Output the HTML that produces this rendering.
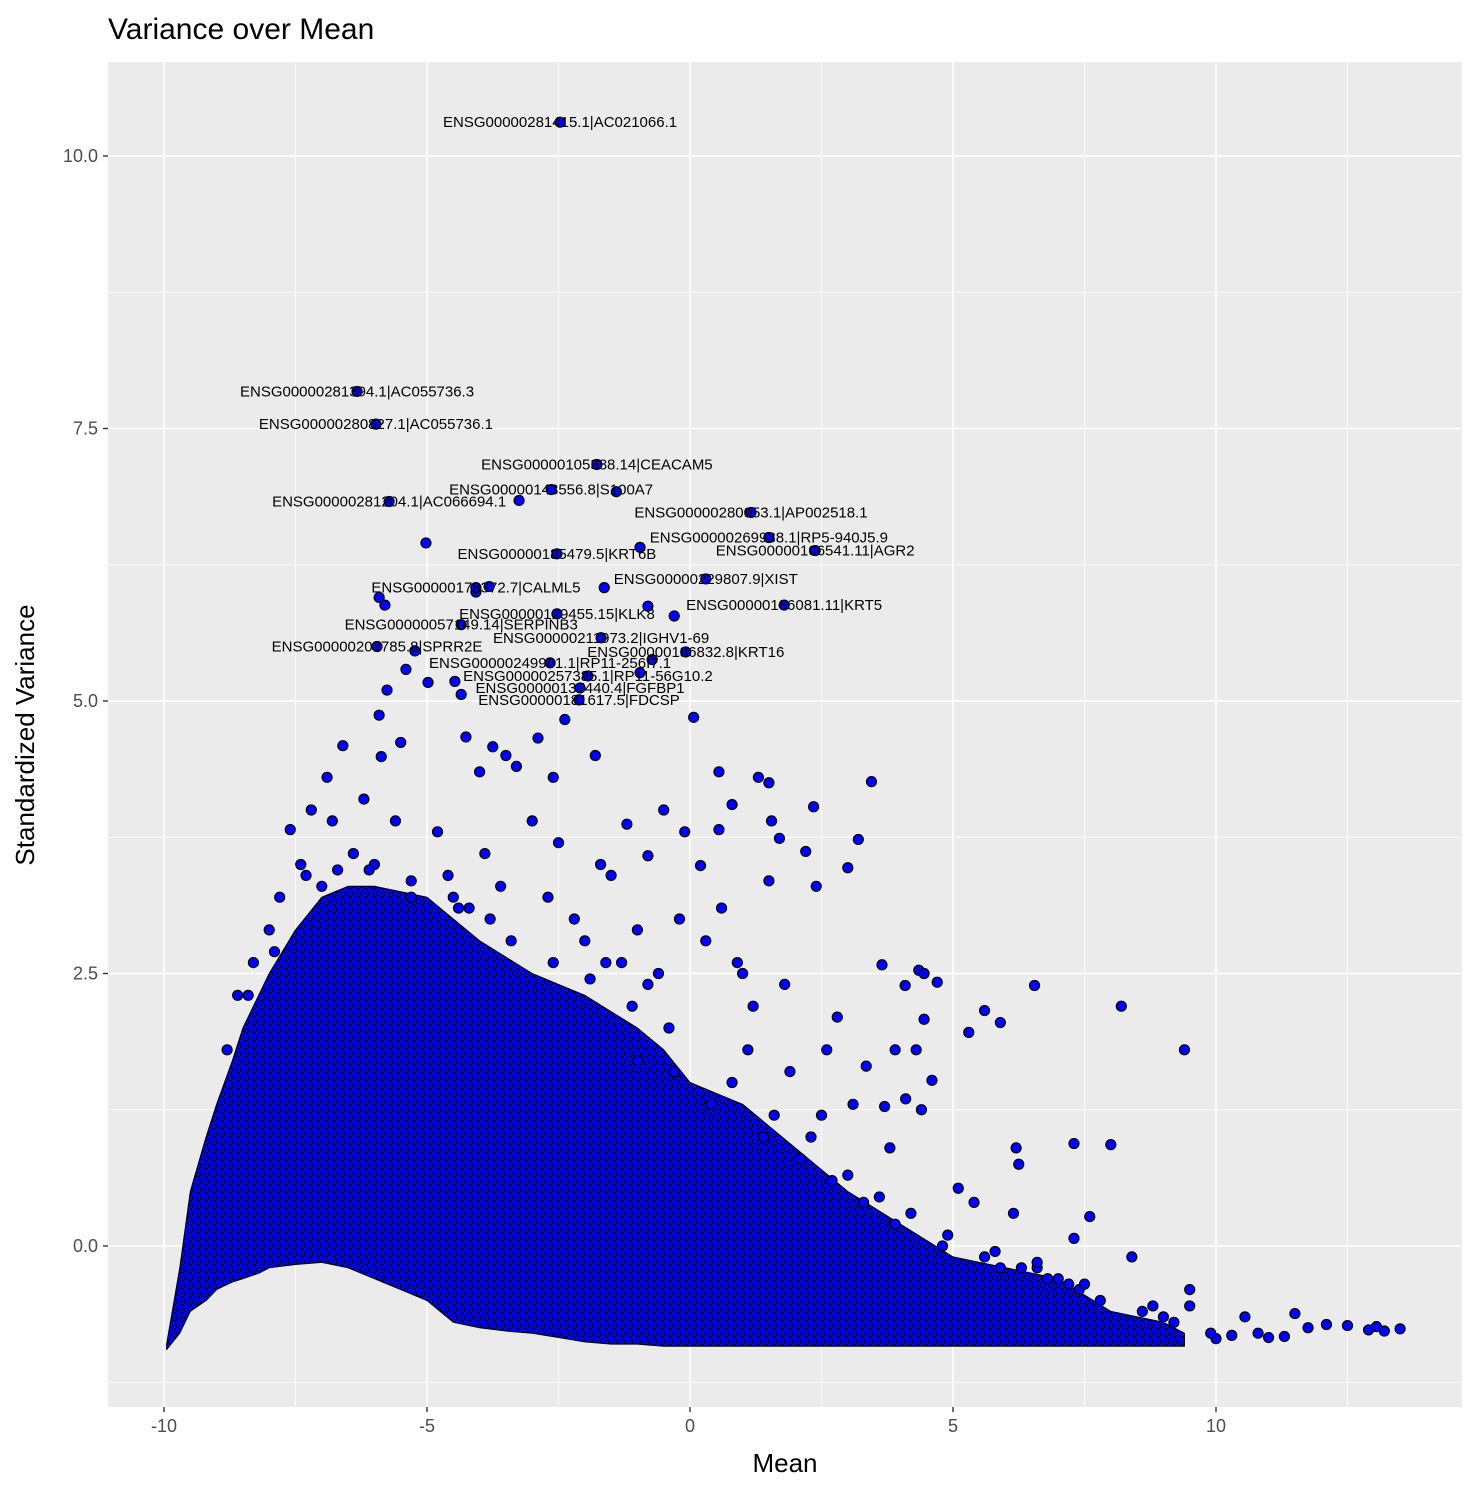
<!DOCTYPE html>
<html><head><meta charset="utf-8">
<style>
body{margin:0;background:#fff;}
svg{display:block;font-family:"Liberation Sans",Arial,sans-serif;}
</style></head>
<body>
<svg id="chart" width="1478" height="1492" xmlns="http://www.w3.org/2000/svg">
<defs>
<pattern id="dots" width="8" height="8" patternUnits="userSpaceOnUse">
<rect width="8" height="8" fill="#0000f0"/>
<circle cx="4" cy="4" r="4.3" fill="#0000ff" stroke="#000" stroke-width="0.8"/>
<circle cx="0" cy="0" r="4.3" fill="#0000ff" stroke="#000" stroke-width="0.8"/>
<circle cx="8" cy="8" r="4.3" fill="#0000ff" stroke="#000" stroke-width="0.8"/>
</pattern>
</defs>
<text x="108" y="39" font-size="30" fill="#000">Variance over Mean</text>
<rect x="108" y="62" width="1354" height="1345" fill="#ebebeb"/>
<g id="grid"></g>
<g id="blob"></g>
<g id="pts"></g>
<g id="labels"></g>
<g id="axes"></g>
<text x="785" y="1472" font-size="26" text-anchor="middle" fill="#000">Mean</text>
<text transform="translate(34,735) rotate(-90)" font-size="26" text-anchor="middle" fill="#000">Standardized Variance</text>
</svg>
<script>
const xTicks=[-10,-5,0,5,10];
const xTickLabels=["-10","-5","0","5","10"];
const yTicks=[0,2.5,5,7.5,10];
const yTickLabels=["0.0","2.5","5.0","7.5","10.0"];
const xMinor=[-7.5,-2.5,2.5,7.5,12.5];
const yMinor=[-1.25,1.25,3.75,6.25,8.75];

const envX=[-9.95,-9.7,-9.5,-9.2,-9,-8.7,-8.5,-8.2,-8,-7.5,-7,-6.5,-6,-5.5,-5,-4.5,-4,-3.5,-3,-2.5,-2,-1.5,-1,-0.5,0,0.5,1,1.5,2,2.5,3,3.5,4,4.5,5,5.5,6,6.5,7,7.5,8,8.5,9,9.4];
const envHi=[-0.9,-0.2,0.5,1.0,1.3,1.7,2.0,2.3,2.5,2.9,3.2,3.3,3.3,3.25,3.2,3.0,2.8,2.65,2.5,2.4,2.3,2.15,2.0,1.8,1.5,1.4,1.3,1.1,0.9,0.7,0.5,0.35,0.2,0.05,-0.1,-0.15,-0.2,-0.25,-0.3,-0.45,-0.6,-0.65,-0.7,-0.8];
const envLo=[-0.95,-0.8,-0.6,-0.5,-0.4,-0.33,-0.3,-0.25,-0.2,-0.17,-0.15,-0.2,-0.3,-0.4,-0.5,-0.7,-0.75,-0.78,-0.8,-0.84,-0.88,-0.9,-0.9,-0.92,-0.92,-0.92,-0.92,-0.92,-0.92,-0.92,-0.92,-0.92,-0.92,-0.92,-0.92,-0.92,-0.92,-0.92,-0.92,-0.92,-0.92,-0.92,-0.92,-0.92];

const ptX=[-5.02,-3.25,-1.4,-0.95,-1.63,-3.82,-4.07,-5.91,-5.8,-0.8,-0.3,-0.72,-0.95,-5.23,-5.4,-4.98,-4.47,-4.35,-5.76,-2.38,0.07,-5.91,-5.5,-4.26,-2.89,-6.6,-5.87,-3.75,-3.5,-1.8,-4.0,-3.3,-2.6,
3.45,1.5,1.3,0.55,4.09,4.35,4.45,4.7,3.65,5.6,5.9,5.3,6.55,8.2,9.4,4.45,3.35,3.2,3.0,2.4,2.2,2.35,1.7,1.5,1.55,0.8,0.55,0.2,-0.1,-0.8,-0.5,-1.2,
3.9,4.3,4.1,4.4,4.6,3.7,7.3,8.0,6.2,6.25,8.4,7.6,7.3,6.15,5.1,5.4,
9.5,9.5,10.55,11.5,11.75,12.1,12.5,12.9,13.05,13.2,13.5,10.0,10.3,10.8,11.0,11.3,9.9,
-7.6,-7.4,-7.8,-7.0,-6.8,-6.4,-6.2,-6.9,-7.2,-8.0,-8.3,-8.6,-6.0,-5.6,-4.8,-4.6,-4.2,-3.9,-3.6,-3.0,-2.7,-2.2,-2.0,-1.7,-1.3,-1.0,-0.6,-0.2,0.3,0.6,1.0,1.8,2.8,3.1,2.6,1.2,0.9,-1.5,-2.5,-3.8,-4.5,-5.3,
-1.0,-0.3,0.4,1.4,2.1,2.7,3.3,3.9,4.8,5.6,6.3,6.8,7.2,7.8,8.6,9.2,5.9,6.6,7.0,7.4,8.8,9.0,
-8.8,-8.4,-7.9,-7.3,-6.7,-6.1,-5.3,-4.4,-3.4,-2.6,-1.9,-1.1,-0.4,0.8,1.6,2.3,3.0,3.6,4.2,4.9,5.8,6.6,7.5,
-0.8,-1.6,1.1,1.9,2.5,3.8];
const ptY=[6.45,6.84,6.92,6.41,6.04,6.05,6.0,5.95,5.88,5.87,5.78,5.38,5.26,5.46,5.29,5.17,5.18,5.06,5.1,4.83,4.85,4.87,4.62,4.67,4.66,4.59,4.49,4.58,4.5,4.5,4.35,4.4,4.3,
4.26,4.25,4.3,4.35,2.39,2.53,2.5,2.42,2.58,2.16,2.05,1.96,2.39,2.2,1.8,2.08,1.65,3.73,3.47,3.3,3.62,4.03,3.74,3.35,3.9,4.05,3.82,3.49,3.8,3.58,4.0,3.87,
1.8,1.8,1.35,1.25,1.52,1.28,0.94,0.93,0.9,0.75,-0.1,0.27,0.07,0.3,0.53,0.4,
-0.55,-0.4,-0.65,-0.62,-0.75,-0.72,-0.73,-0.77,-0.74,-0.78,-0.76,-0.85,-0.82,-0.8,-0.84,-0.83,-0.8,
3.82,3.5,3.2,3.3,3.9,3.6,4.1,4.3,4.0,2.9,2.6,2.3,3.5,3.9,3.8,3.4,3.1,3.6,3.3,3.9,3.2,3.0,2.8,3.5,2.6,2.9,2.5,3.0,2.8,3.1,2.5,2.4,2.1,1.3,1.8,2.2,2.6,3.4,3.7,3.0,3.2,3.2,
1.7,1.6,1.3,1.0,0.8,0.6,0.4,0.2,0.0,-0.1,-0.2,-0.3,-0.35,-0.5,-0.6,-0.7,-0.2,-0.2,-0.3,-0.4,-0.55,-0.65,
1.8,2.3,2.7,3.4,3.45,3.45,3.35,3.1,2.8,2.6,2.45,2.2,2.0,1.5,1.2,1.0,0.65,0.45,0.3,0.1,-0.05,-0.15,-0.35,
2.4,2.6,1.8,1.6,1.2,0.9];

const labX=[-2.47,-6.33,-5.97,-1.77,-2.64,-5.72,1.16,1.5,-2.53,2.38,0.3,-4.07,1.79,-2.53,-4.35,-1.69,-5.95,-0.08,-2.66,-1.94,-2.09,-2.11];
const labY=[10.31,7.84,7.54,7.17,6.94,6.83,6.73,6.5,6.35,6.38,6.12,6.04,5.88,5.8,5.7,5.58,5.5,5.45,5.35,5.23,5.12,5.01];
const labText=["ENSG00000281415.1|AC021066.1","ENSG00000281394.1|AC055736.3","ENSG00000280827.1|AC055736.1","ENSG00000105388.14|CEACAM5","ENSG00000143556.8|S100A7","ENSG00000281204.1|AC066694.1","ENSG00000280053.1|AP002518.1","ENSG00000269938.1|RP5-940J5.9","ENSG00000185479.5|KRT6B","ENSG00000106541.11|AGR2","ENSG00000229807.9|XIST","ENSG00000178372.7|CALML5","ENSG00000186081.11|KRT5","ENSG00000129455.15|KLK8","ENSG00000057149.14|SERPINB3","ENSG00000211973.2|IGHV1-69","ENSG00000203785.8|SPRR2E","ENSG00000186832.8|KRT16","ENSG00000249961.1|RP11-256I7.1","ENSG00000257385.1|RP11-56G10.2","ENSG00000137440.4|FGFBP1","ENSG00000181617.5|FDCSP"];

const NS="http://www.w3.org/2000/svg";
const sx=v=>690+v*52.6;
const sy=v=>1246-v*109;
function mk(tag,attrs,parent){const e=document.createElementNS(NS,tag);for(const k in attrs)e.setAttribute(k,attrs[k]);parent.appendChild(e);return e;}
const grid=document.getElementById('grid');
xMinor.forEach(v=>{const l=mk('line',{x1:sx(v),x2:sx(v),y1:62,y2:1407,stroke:'#fff','stroke-width':0.8},grid);

});
yMinor.forEach(v=>{const l=mk('line',{x1:108,x2:1462,y1:sy(v),y2:sy(v),stroke:'#fff','stroke-width':0.8},grid);

});
const axes=document.getElementById('axes');
xTicks.forEach((v,i)=>{const l=mk('line',{x1:sx(v),x2:sx(v),y1:62,y2:1407,stroke:'#fff','stroke-width':1.6},grid);


const t=mk('line',{x1:sx(v),x2:sx(v),y1:1407,y2:1412,stroke:'#333','stroke-width':1.4},axes);


const tx=mk('text',{x:sx(v),y:1432,'font-size':18,'text-anchor':'middle',fill:'#4d4d4d'},axes);tx.textContent=xTickLabels[i];

});
yTicks.forEach((v,i)=>{const l=mk('line',{x1:108,x2:1462,y1:sy(v),y2:sy(v),stroke:'#fff','stroke-width':1.6},grid);


const t=mk('line',{x1:103,x2:108,y1:sy(v),y2:sy(v),stroke:'#333','stroke-width':1.4},axes);


const tx=mk('text',{x:98,y:sy(v)+6,'font-size':18,'text-anchor':'end',fill:'#4d4d4d'},axes);tx.textContent=yTickLabels[i];

});
let d='M'+sx(envX[0])+','+sy(envHi[0]);
for(let i=1;i<envX.length;i++)d+=' L'+sx(envX[i])+','+sy(envHi[i]);
for(let i=envX.length-1;i>=0;i--)d+=' L'+sx(envX[i])+','+sy(envLo[i]);
d+='Z';
const blob=mk('path',{d:d,fill:'url(#dots)',stroke:'#000','stroke-width':1,'stroke-linejoin':'round'},document.getElementById('blob'));


const pts=document.getElementById('pts');
for(let i=0;i<ptX.length;i++){const c=mk('circle',{cx:sx(ptX[i]),cy:sy(ptY[i]),r:5,fill:'#0000ff',stroke:'#000','stroke-width':1.2},pts);

}
const lab=document.getElementById('labels');
for(let i=0;i<labX.length;i++){const c=mk('circle',{cx:sx(labX[i]),cy:sy(labY[i]),r:5,fill:'#0000ff',stroke:'#000','stroke-width':1.2},pts);


const t=mk('text',{x:sx(labX[i]),y:sy(labY[i])+5,'font-size':15,'text-anchor':'middle',fill:'#000'},lab);t.textContent=labText[i];

}
</script>
</body></html>
